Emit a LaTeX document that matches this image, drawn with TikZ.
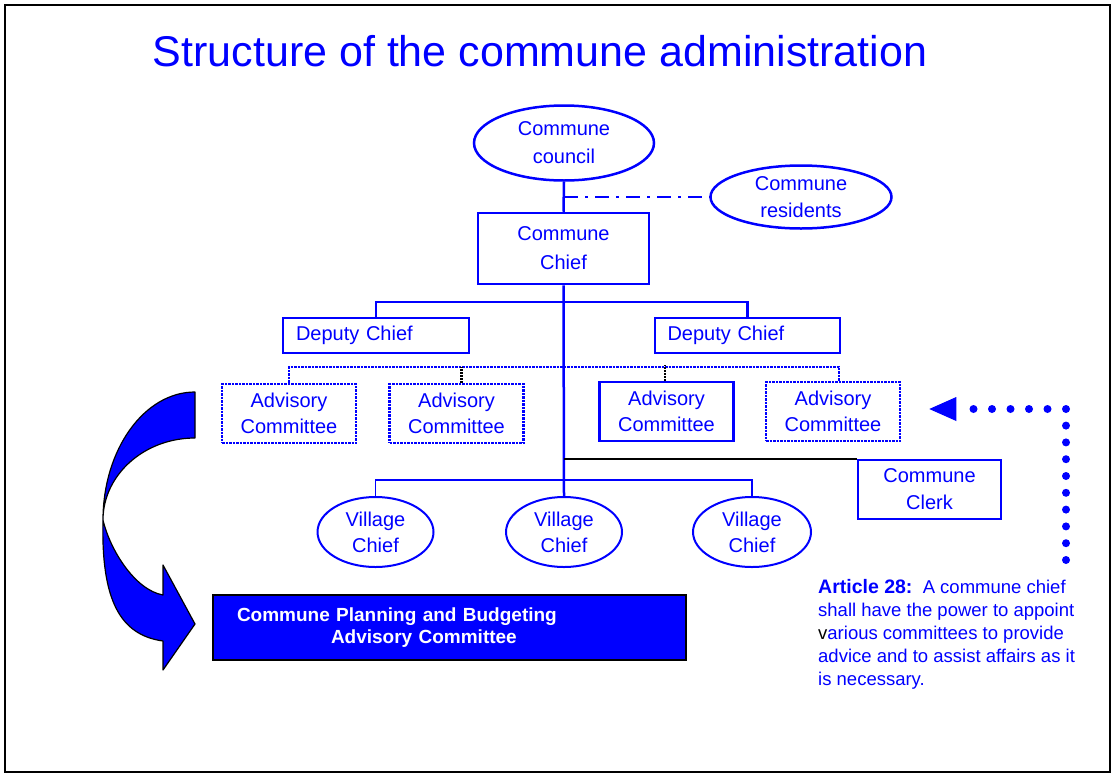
\documentclass[tikz,border=0pt]{standalone}
\usepackage{fontspec}
\setmainfont{Liberation Sans}
\usetikzlibrary{shapes.geometric}
\definecolor{orgblue}{RGB}{0,0,255}

\begin{document}
\begin{tikzpicture}[x=1pt, y=-1pt,
  boxtext/.style={font=\fontsize{20}{28}\selectfont, text=orgblue, align=center, inner sep=0pt},
  oval/.style={boxtext, ellipse, draw=orgblue, line width=2.5pt},
  post/.style={boxtext, rectangle, draw=orgblue, line width=2.5pt},
  advbox/.style={boxtext, rectangle, draw=orgblue, line width=2.5pt, densely dotted,
    minimum width=134pt, minimum height=59pt, font=\fontsize{20}{26}\selectfont},
  village/.style={oval, line width=2pt, minimum width=116pt, minimum height=70pt,
    font=\fontsize{20}{26}\selectfont},
  tree/.style={orgblue, line width=2.5pt},
  advline/.style={orgblue, line width=2.5pt, densely dotted},
  advdrop/.style={black, line width=2.5pt, dash pattern=on 2pt off 1pt},
  dotline/.style={orgblue, line width=8pt, line cap=round}
]
\useasboundingbox (0,0) rectangle (1113,774);
% Frame
\draw[black, line width=1.5pt] (5,5) rectangle (1110,772);

% Title
\node[text=orgblue, font=\fontsize{43}{48}\selectfont] (title) at (540,51) {Structure of the commune administration};

% Council, residents and chief
\node[oval, minimum width=180pt, minimum height=75pt] (council) at (564,143) {Commune\\council};
\node[oval, minimum width=181pt, minimum height=63pt, font=\fontsize{20}{27}\selectfont] (residents) at (801,197) {Commune\\residents};
\node[post, minimum width=171pt, minimum height=71pt, font=\fontsize{20}{29}\selectfont] (chief) at (563.5,248.5) {Commune\\Chief};

% Deputies
\node[post, minimum width=186pt, minimum height=35pt, text width=160pt, align=left, inner xsep=13pt] (depL) at (376,335.5) {Deputy Chief};
\node[post, minimum width=185pt, minimum height=35pt, text width=160pt, align=left, inner xsep=12.5pt] (depR) at (747.5,335.5) {Deputy Chief};

% Advisory committees
\node[advbox] (adv1) at (289,413.5) {Advisory\\Committee};
\node[advbox] (adv2) at (456.5,413.5) {Advisory\\Committee};
\node[advbox, solid] (adv3) at (666.5,411.5) {Advisory\\Committee};
\node[advbox] (adv4) at (833,411.5) {Advisory\\Committee};

% Clerk and village chiefs
\node[post, minimum width=143pt, minimum height=59pt, font=\fontsize{20}{27}\selectfont] (clerk) at (929.5,489.5) {Commune\\Clerk};
\node[village] (vil1) at (375.5,532) {Village\\Chief};
\node[village] (vil2) at (564,532) {Village\\Chief};
\node[village, minimum width=118pt] (vil3) at (752,532) {Village\\Chief};

% Planning committee
\node[rectangle, draw=black, line width=1.2pt, fill=orgblue, text=white,
  minimum width=473pt, minimum height=65pt, text width=425pt, inner xsep=24pt,
  align=left, font=\bfseries\fontsize{19}{22}\selectfont] (plan) at (449.5,627.5)
  {Commune Planning and Budgeting\\\hspace*{94pt}Advisory Committee};

% Lines of the tree
\draw[tree] (council.south) -- (chief.north);
\draw[tree, dash pattern=on 14pt off 7pt on 3pt off 7pt] (council.south |- residents.west) -- (residents.west);
\draw[tree] (chief.south) -- (vil2.north);
\draw[tree] (depL.north) -- ++(0,-15) -| (depR.north);
\draw[advline] (adv1.north) -- ++(0,-16) -| ([xshift=6pt]adv4.north);
\draw[advdrop] ([xshift=5pt]adv2.north) -- ++(0,-16);
\draw[advdrop] ([xshift=-1.5pt]adv3.north) -- ++(0,-16);
\draw[black, line width=1.5pt] (chief.south |- clerk.north west) -- (clerk.north west);
\draw[orgblue, line width=1.5pt] (vil1.north) -- ++(0,-16) -| (vil3.north);

% Curved arrow to the planning committee
\draw[black, line width=1.2pt, fill=orgblue, line join=round]
  (195,392) .. controls (144,392) and (103,450) .. (103,520)
  .. controls (101,600) and (120,635) .. (163,641) -- (163,670) -- (195,624)
  -- (163,565) -- (163,595) .. controls (135,590) and (110,550) .. (103,520)
  .. controls (103,475) and (144,438) .. (195,438) -- cycle;

% Dotted pointer from the article
\coordinate (ptrtip) at ([xshift=28pt,yshift=2.5pt]adv4.east);
\coordinate (ptr) at (1066,560);
\coordinate (ptrbend) at (ptr |- ptrtip);
\draw[dotline, dash pattern=on 0pt off 16.8pt] (ptr) -- (ptrbend);
\draw[dotline, dash pattern=on 0pt off 18.5pt] (ptrbend) -- ([xshift=27pt]ptrtip);
\fill[orgblue] (ptrtip) -- ++(27,-12) -- ++(0,24) -- cycle;

% Article text
\node[anchor=north west, inner sep=0pt, text=orgblue, align=left,
  font=\fontsize{18.5}{23}\selectfont] (article) at (818,579)
  {{\fontsize{19.5}{23}\selectfont\bfseries Article 28:}\ \ A commune chief\\
   shall have the power to appoint\\
   {\color{black}v}arious committees to provide\\
   advice and to assist affairs as it\\
   is necessary.};
\end{tikzpicture}
\end{document}
